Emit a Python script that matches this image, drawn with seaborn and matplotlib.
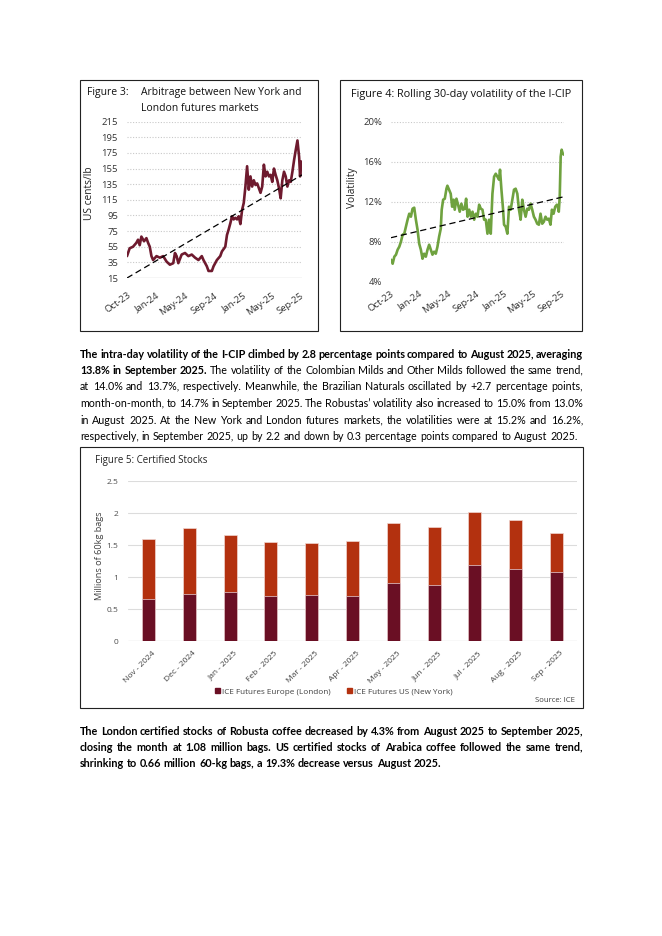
import numpy as np
import pandas as pd
import matplotlib
matplotlib.use("Agg")
import matplotlib.pyplot as plt
import matplotlib.transforms as mtrans
from matplotlib.patches import Rectangle, Patch
import seaborn as sns

# ---------------- data ----------------
arb_dates = ["2023-10-01", "2023-10-12", "2023-10-26", "2023-11-09", "2023-11-16", "2023-11-23",
             "2023-11-30", "2023-12-11", "2023-12-21", "2023-12-28", "2024-01-04", "2024-01-11",
             "2024-01-18", "2024-02-01", "2024-02-15", "2024-02-29", "2024-03-14", "2024-03-28",
             "2024-04-11", "2024-04-18", "2024-04-25", "2024-05-02", "2024-05-16", "2024-05-30",
             "2024-06-13", "2024-06-27", "2024-07-11", "2024-07-25", "2024-08-08", "2024-08-15",
             "2024-08-29", "2024-09-05", "2024-09-19", "2024-09-26", "2024-10-10", "2024-10-24",
             "2024-10-31", "2024-11-14", "2024-11-21", "2024-11-28", "2024-12-05", "2024-12-12",
             "2024-12-19", "2024-12-26", "2025-01-02", "2025-01-09", "2025-01-16", "2025-01-23",
             "2025-01-30", "2025-02-06", "2025-02-13", "2025-02-20", "2025-02-27", "2025-03-06",
             "2025-03-13", "2025-03-20", "2025-03-27", "2025-04-03", "2025-04-10", "2025-04-17",
             "2025-04-24", "2025-05-01", "2025-05-08", "2025-05-15", "2025-05-22", "2025-05-29",
             "2025-06-05", "2025-06-12", "2025-06-19", "2025-06-26", "2025-07-03", "2025-07-10",
             "2025-07-17", "2025-07-24", "2025-07-31", "2025-08-07", "2025-08-14", "2025-08-21",
             "2025-08-28", "2025-09-04", "2025-09-11", "2025-09-18", "2025-09-22", "2025-09-27",
             "2025-09-30"]
arb_values = [43, 53, 55, 60, 64, 57,
              68, 62, 66, 60, 55, 43,
              38, 43, 41, 43, 36, 32,
              34, 47, 43, 34, 45, 47,
              43, 45, 41, 38, 43, 38,
              30, 24, 24, 30, 38, 43,
              49, 55, 70, 77, 85, 94,
              90, 92, 90, 94, 84, 102,
              111, 132, 158, 128, 145, 132,
              140, 134, 136, 130, 124, 132,
              160, 145, 151, 145, 147, 138,
              155, 147, 140, 130, 117, 140,
              151, 145, 132, 140, 138, 151,
              166, 179, 191, 170, 145, 164,
              162]
arb_trend_dates = ["2023-10-01", "2025-09-30"]
arb_trend_values = [15, 147]

vol_dates = ["2023-10-01", "2023-10-08", "2023-10-15", "2023-10-22", "2023-10-29", "2023-11-05",
             "2023-11-12", "2023-11-19", "2023-11-26", "2023-12-03", "2023-12-10", "2023-12-17",
             "2023-12-24", "2023-12-31", "2024-01-07", "2024-01-14", "2024-01-21", "2024-01-28",
             "2024-02-04", "2024-02-11", "2024-02-18", "2024-02-25", "2024-03-03", "2024-03-10",
             "2024-03-17", "2024-03-24", "2024-03-31", "2024-04-07", "2024-04-14", "2024-04-21",
             "2024-04-28", "2024-05-02", "2024-05-08", "2024-05-15", "2024-05-22", "2024-05-26",
             "2024-06-02", "2024-06-09", "2024-06-15", "2024-06-21", "2024-06-26", "2024-07-03",
             "2024-07-10", "2024-07-17", "2024-07-24", "2024-07-31", "2024-08-07", "2024-08-13",
             "2024-08-19", "2024-08-26", "2024-09-02", "2024-09-09", "2024-09-16", "2024-09-23",
             "2024-09-30", "2024-10-07", "2024-10-14", "2024-10-21", "2024-10-28", "2024-11-04",
             "2024-11-11", "2024-11-18", "2024-11-25", "2024-12-02", "2024-12-09", "2024-12-16",
             "2024-12-23", "2024-12-30", "2025-01-03", "2025-01-09", "2025-01-16", "2025-01-20",
             "2025-01-27", "2025-02-03", "2025-02-10", "2025-02-17", "2025-02-24", "2025-03-03",
             "2025-03-10", "2025-03-17", "2025-03-24", "2025-03-31", "2025-04-07", "2025-04-14",
             "2025-04-21", "2025-04-28", "2025-05-05", "2025-05-12", "2025-05-19", "2025-05-26",
             "2025-06-02", "2025-06-09", "2025-06-16", "2025-06-23", "2025-06-30", "2025-07-07",
             "2025-07-14", "2025-07-21", "2025-07-28", "2025-08-04", "2025-08-10", "2025-08-17",
             "2025-08-24", "2025-08-31", "2025-09-04", "2025-09-08", "2025-09-12", "2025-09-16",
             "2025-09-20", "2025-09-25", "2025-09-30"]
vol_values = [6.2, 5.8, 6.5, 6.7, 7.2, 7.5,
              8.0, 8.7, 8.8, 9.5, 10.2, 10.8,
              10.5, 11.3, 11.4, 10.2, 9.2, 7.8,
              7.2, 6.3, 6.8, 6.5, 7.2, 7.7,
              7.2, 6.7, 7.0, 6.8, 7.5, 8.5,
              9.3, 11.2, 12.2, 12.3, 13.3, 13.6,
              13.2, 12.8, 11.5, 12.2, 11.2, 12.3,
              11.7, 11.0, 11.8, 11.2, 11.3, 12.3,
              10.5, 11.2, 10.5, 11.0, 10.2, 10.8,
              10.5, 11.7, 11.3, 11.2, 10.2, 10.2,
              8.8, 10.2, 8.8, 12.8, 14.5, 14.8,
              14.5, 14.2, 15.2, 13.2, 11.2, 9.7,
              9.5, 8.8, 11.5, 11.2, 12.2, 13.2,
              13.3, 12.8, 11.2, 10.2, 12.2, 11.2,
              10.5, 11.3, 11.2, 11.8, 11.2, 10.5,
              10.2, 9.8, 9.7, 10.8, 9.8, 10.0,
              10.5, 10.2, 10.3, 9.7, 11.2, 10.8,
              11.5, 11.7, 11.5, 11.0, 12.5, 16.5,
              17.2, 16.8, 16.7]
vol_trend_dates = ["2023-10-01", "2025-09-30"]
vol_trend_values = [8.4, 12.5]

date_tick_labels = ["Oct-23", "Jan-24", "May-24", "Sep-24", "Jan-25", "May-25", "Sep-25"]
arb_yticks = [15, 35, 55, 75, 95, 115, 135, 155, 175, 195, 215]
vol_yticks = [4, 8, 12, 16, 20]
vol_ytick_labels = ["4%", "8%", "12%", "16%", "20%"]

stock_months = ["Nov - 2024", "Dec - 2024", "Jan - 2025", "Feb - 2025", "Mar - 2025", "Apr - 2025",
                "May - 2025", "Jun - 2025", "Jul - 2025", "Aug - 2025", "Sep - 2025"]
stock_london = [0.65, 0.73, 0.76, 0.71, 0.72, 0.70, 0.91, 0.87, 1.18, 1.12, 1.08]
stock_newyork = [0.95, 1.03, 0.90, 0.84, 0.81, 0.86, 0.93, 0.91, 0.84, 0.77, 0.61]
stock_yticks = [0, 0.5, 1, 1.5, 2, 2.5]
stock_ytick_labels = ["0", "0.5", "1", "1.5", "2", "2.5"]
stock_series = ["ICE Futures Europe (London)", "ICE Futures US (New York)"]

para1_lines = [
    [("The intra-day volatility of the I-CIP climbed by 2.8 percentage points compared to August 2025, averaging", "bold")],
    [("13.8% in September 2025.", "bold"),
     ("The volatility of the Colombian Milds and Other Milds followed the same trend,", "normal")],
    [("at 14.0% and 13.7%, respectively. Meanwhile, the Brazilian Naturals oscillated by +2.7 percentage points,", "normal")],
    [("month-on-month, to 14.7% in September 2025. The Robustas\u2019 volatility also increased to 15.0% from 13.0%", "normal")],
    [("in August 2025.  At the New York and London futures markets, the volatilities were at 15.2% and 16.2%,", "normal")],
    [("respectively, in September 2025, up by 2.2 and down by 0.3 percentage points compared to August 2025.", "normal")],
]
para2_lines = [
    [("The London certified stocks of Robusta coffee decreased by 4.3% from August 2025 to September 2025,", "bold")],
    [("closing the month at 1.08 million bags. US certified stocks of Arabica coffee followed the same trend,", "bold")],
    [("shrinking to 0.66 million 60-kg bags, a 19.3% decrease versus August 2025.", "bold")],
]

# ---------------- style ----------------
MAROON = "#6E1A2E"
GREEN = "#6FA23F"
DARK = "#6A0F24"
ORANGE = "#B3310F"
GRID = "#c9c9c9"
TICK = "#333333"
BODY = ["Lato", "DejaVu Sans"]
CHART = ["Open Sans", "DejaVu Sans"]

sns.set_theme(style="white")
plt.rcParams["font.family"] = CHART

W, H = 662, 936
fig = plt.figure(figsize=(W / 100, H / 100), dpi=100)
fig.patch.set_facecolor("white")


def fx(px):
    return px / W


def fy(py):
    return 1 - py / H


def rect(x0, y0, x1, y1):
    return [x0 / W, 1 - y1 / H, (x1 - x0) / W, (y1 - y0) / H]


def box(x0, y0, x1, y1):
    fig.add_artist(Rectangle((fx(x0), fy(y1)), (x1 - x0) / W, (y1 - y0) / H,
                             transform=fig.transFigure, fill=False, lw=0.8, ec="#222222"))


def clean(ax):
    for s in ax.spines.values():
        s.set_visible(False)
    ax.tick_params(length=0)
    ax.set_facecolor("none")


def shift_labels(ax, dx_px, dy_px):
    off = mtrans.ScaledTranslation(dx_px / 100, dy_px / 100, fig.dpi_scale_trans)
    for lab in ax.get_xticklabels():
        lab.set_transform(lab.get_transform() + off)


# ---------------- boxes ----------------
box(80, 80, 318, 331)
box(340, 80, 582, 331)
box(80, 447, 583, 708)

date_ticks = pd.date_range("2023-10-01", periods=len(date_tick_labels), freq="120D")
xmin, xmax = pd.Timestamp("2023-10-01"), pd.Timestamp("2025-09-30")
TITLE_SIZE = 7.5
TICK_SIZE = 6.8

# ---------------- Figure 3 ----------------
ax3 = fig.add_axes(rect(127, 121.7, 302, 278))
clean(ax3)
df3 = pd.DataFrame({"date": pd.to_datetime(arb_dates), "value": arb_values})
tr3 = pd.DataFrame({"date": pd.to_datetime(arb_trend_dates), "value": arb_trend_values})
for yv in arb_yticks[1:]:
    ax3.axhline(yv, color=GRID, lw=0.8, ls=(0, (1, 1.5)), zorder=0)
ax3.axhline(arb_yticks[0], color="#d4d4d4", lw=1.0, zorder=0)
sns.lineplot(data=df3, x="date", y="value", ax=ax3, color=MAROON, lw=1.9, zorder=3)
sns.lineplot(data=tr3, x="date", y="value", ax=ax3, color="black", lw=0.9,
             linestyle=(0, (5, 3)), zorder=4)
ax3.set_xlim(xmin, xmax)
ax3.set_ylim(15, 215)
ax3.set_yticks(arb_yticks)
ax3.set_yticklabels([str(v) for v in arb_yticks], fontsize=TICK_SIZE, color=TICK)
ax3.tick_params(axis="y", pad=6.5)
ax3.set_xticks(date_ticks)
ax3.set_xticklabels(date_tick_labels, rotation=35, ha="right", va="center",
                    rotation_mode="anchor", fontsize=TICK_SIZE, color=TICK)
ax3.tick_params(axis="x", pad=12)
shift_labels(ax3, 3, 0)
ax3.set_xlabel("")
ax3.set_ylabel("")
fig.text(fx(90), fy(193), "US cents/lb", rotation=90, ha="center", va="center",
         fontsize=7.3, color="#222222")
fig.text(fx(87), fy(95.5), "Figure 3:", fontsize=TITLE_SIZE, color="#111111", va="baseline")
fig.text(fx(141), fy(95.5), "Arbitrage between New York and", fontsize=TITLE_SIZE,
         color="#111111", va="baseline")
fig.text(fx(141), fy(111), "London futures markets", fontsize=TITLE_SIZE, color="#111111",
         va="baseline")

# ---------------- Figure 4 ----------------
ax4 = fig.add_axes(rect(391, 121.7, 564, 281.7))
clean(ax4)
df4 = pd.DataFrame({"date": pd.to_datetime(vol_dates), "value": vol_values})
tr4 = pd.DataFrame({"date": pd.to_datetime(vol_trend_dates), "value": vol_trend_values})
for yv in vol_yticks[1:]:
    ax4.axhline(yv, color=GRID, lw=0.8, ls=(0, (1, 1.5)), zorder=0)
sns.lineplot(data=df4, x="date", y="value", ax=ax4, color=GREEN, lw=1.9, zorder=3)
sns.lineplot(data=tr4, x="date", y="value", ax=ax4, color="black", lw=0.9,
             linestyle=(0, (5, 3)), zorder=4)
ax4.set_xlim(xmin, xmax)
ax4.set_ylim(4, 20)
ax4.set_yticks(vol_yticks)
ax4.set_yticklabels(vol_ytick_labels, fontsize=TICK_SIZE, color=TICK)
ax4.tick_params(axis="y", pad=6.5)
ax4.set_xticks(date_ticks)
ax4.set_xticklabels(date_tick_labels, rotation=35, ha="right", va="center",
                    rotation_mode="anchor", fontsize=TICK_SIZE, color=TICK)
ax4.tick_params(axis="x", pad=8)
shift_labels(ax4, 2, 0)
ax4.set_xlabel("")
ax4.set_ylabel("")
fig.text(fx(353), fy(188), "Volatility", rotation=90, ha="center", va="center",
         fontsize=7.3, color="#222222")
fig.text(fx(351), fy(96.5), "Figure 4:", fontsize=7.8, color="#111111", va="baseline")
fig.text(fx(397), fy(96.5), "Rolling 30-day volatility of the I-CIP", fontsize=7.8,
         color="#111111", va="baseline")

# ---------------- Figure 5 ----------------
ax5 = fig.add_axes(rect(128, 481, 577, 641))
clean(ax5)
totals = [l + n for l, n in zip(stock_london, stock_newyork)]
df5 = pd.DataFrame({"month": stock_months, "london": stock_london, "total": totals})
for yv in stock_yticks[1:]:
    ax5.axhline(yv, color="#dcdcdc", lw=0.8, zorder=0)
ax5.axhline(0, color="#cfcfcf", lw=0.9, zorder=0)
sns.barplot(data=df5, x="month", y="total", ax=ax5, color=ORANGE, width=0.32,
            saturation=1, edgecolor="#f1d6d0", linewidth=0.5, zorder=2)
sns.barplot(data=df5, x="month", y="london", ax=ax5, color=DARK, width=0.32,
            saturation=1, edgecolor="#e9d0d4", linewidth=0.5, zorder=3)
ax5.set_ylim(0, 2.5)
ax5.set_xlim(-0.5, len(stock_months) - 0.5)
ax5.set_yticks(stock_yticks)
ax5.set_yticklabels(stock_ytick_labels, fontsize=6.0, color="#4d4d4d")
ax5.tick_params(axis="y", pad=7)
ax5.set_xticks(range(len(stock_months)))
ax5.set_xticklabels(stock_months, rotation=45, ha="right", va="center",
                    rotation_mode="anchor", fontsize=6.0, color="#404040")
ax5.tick_params(axis="x", pad=8)
shift_labels(ax5, 6, 0)
ax5.set_xlabel("")
ax5.set_ylabel("")
fig.text(fx(100), fy(556), "Millions of 60kg bags", rotation=90, ha="center", va="center",
         fontsize=6.6, color="#404040")
fig.text(fx(95), fy(462.5), "Figure 5: Certified Stocks", fontsize=7.0, color="#222222",
         va="baseline")
fig.legend(handles=[Patch(color=DARK, label=stock_series[0]),
                    Patch(color=ORANGE, label=stock_series[1])],
           loc="center", bbox_to_anchor=(fx(334), fy(692)), ncol=2, frameon=False,
           fontsize=5.9, handlelength=0.55, handleheight=0.55, handletextpad=0.3,
           columnspacing=2.0, labelcolor="#404040")
fig.text(fx(575), fy(702.5), "Source: ICE", ha="right", fontsize=5.6, color="#404040",
         va="baseline")

# ---------------- justified body text ----------------
renderer = fig.canvas.get_renderer()


def tokens(line):
    out = []
    for txt, wt in line:
        for w in txt.split(" "):
            if w:
                out.append((w, wt))
    return out


def measure(s, wt, size):
    t = fig.text(0, 0, s, fontsize=size, fontweight=wt, family=BODY)
    w = t.get_window_extent(renderer).width
    t.remove()
    return w


X0, X1 = 80, 583
base = 10.0
reg_text = para1_lines[-1][0][0]
bold_text = para2_lines[-1][0][0]
SIZES = {"normal": base * (573 - X0) / measure(reg_text, "normal", base),
         "bold": base * (440 - X0) / measure(bold_text, "bold", base)}


def draw_para(lines, baseline0, spacing):
    for i, line in enumerate(lines):
        toks = tokens(line)
        widths = [measure(w, wt, SIZES[wt]) for w, wt in toks]
        last = i == len(lines) - 1
        if last:
            gaps = [measure("a a", wt, SIZES[wt]) - measure("aa", wt, SIZES[wt]) for _, wt in toks]
        else:
            g = (X1 - X0 - sum(widths)) / (len(toks) - 1)
            gaps = [g] * len(toks)
        x = X0
        # keep every baseline a little off the half-pixel so words share one raster row
        y = round(baseline0 + i * spacing) - 0.25
        for (w, wt), wd, g in zip(toks, widths, gaps):
            fig.text(fx(x), fy(y), w, fontsize=SIZES[wt], fontweight=wt, family=BODY,
                     color="#000000", va="baseline", ha="left")
            x += wd + g


draw_para(para1_lines, 357.5, 16.5)
draw_para(para2_lines, 735.0, 16.0)

fig.savefig("out.png", dpi=100, facecolor="white")
